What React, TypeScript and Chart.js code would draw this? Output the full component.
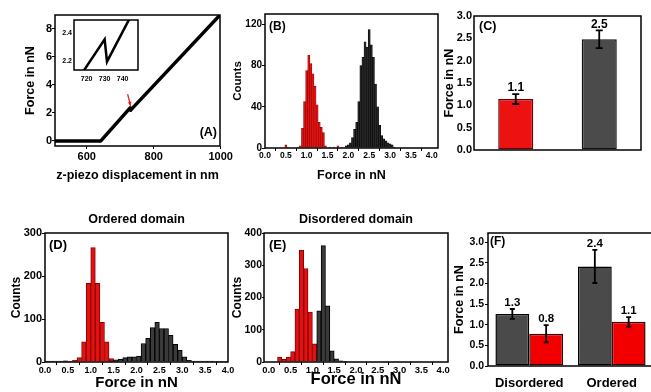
import React, { useEffect, useRef } from 'react';
import { Chart, registerables } from 'chart.js';

Chart.register(...registerables);

const FONT = "'Liberation Sans', Arial, Helvetica, sans-serif";

// ---------- (A) force curve ----------
const A_DISP = [505, 642, 729.5, 731, 998];
const A_FORCE = [0, 0, 2.36, 2.2, 9];
const A_X_TICKS = [600, 800, 1000];
const A_Y_TICKS = [0, 2, 4, 6, 8];
const A_ARROW_DISP = [722, 731];
const A_ARROW_FORCE = [3.35, 2.5];
// inset of (A)
const INSET_DISP = [713, 730, 731.3, 748.5];
const INSET_FORCE = [2.02, 2.356, 2.193, 2.625];
const INSET_X_TICKS = [720, 730, 740];
const INSET_Y_TICKS = [2.2, 2.4];

// ---------- (B) histogram ----------
const B_RED_BINS = [0.5, 0.55, 0.8, 0.85, 0.9, 0.95, 1.0, 1.05, 1.1, 1.15, 1.2, 1.25, 1.3, 1.35, 1.4, 1.45, 1.55, 1.65, 1.75, 1.85];
const B_RED_COUNTS = [3, 1, 1, 2, 19, 45, 75, 90, 82, 72, 60, 42, 25, 20, 15, 2, 1, 1, 2, 1];
const B_DARK_BINS = [1.95, 2.0, 2.05, 2.1, 2.15, 2.2, 2.25, 2.3, 2.35, 2.4, 2.45, 2.5, 2.55, 2.6, 2.65, 2.7, 2.75, 2.8, 2.85, 2.9, 2.95, 3.0, 3.05, 3.1];
const B_DARK_COUNTS = [2, 3, 5, 10, 18, 25, 45, 80, 88, 103, 98, 115, 100, 88, 62, 40, 22, 12, 9, 7, 5, 4, 3, 1];
const B_Y_TICKS = [0, 40, 80, 120];

// ---------- (D) Ordered domain ----------
const D_RED_BINS = [0.45, 0.55, 0.65, 0.75, 0.85, 0.95, 1.05, 1.15, 1.25, 1.35, 1.45, 1.55];
const D_RED_COUNTS = [1, 2, 4, 10, 47, 183, 266, 183, 92, 47, 8, 3];
const D_DARK_BINS = [0.05, 0.15, 0.25, 0.35, 0.45, 1.45, 1.55, 1.65, 1.75, 1.85, 1.95, 2.05, 2.15, 2.25, 2.35, 2.45, 2.55, 2.65, 2.75, 2.85, 2.95, 3.05, 3.15, 3.25, 3.35, 3.45, 3.55, 3.65, 3.75, 3.85, 3.95];
const D_DARK_COUNTS = [2, 2, 2, 2, 3, 3, 5, 7, 10, 12, 12, 14, 43, 55, 80, 92, 78, 78, 62, 41, 27, 12, 4, 2, 2, 2, 2, 2, 1, 1, 1];
const D_Y_TICKS = [0, 100, 200, 300];

// ---------- (E) Disordered domain ----------
const E_RED_BINS = [0.25, 0.35, 0.45, 0.55, 0.65, 0.75, 0.85, 0.95, 1.05];
const E_RED_COUNTS = [15, 8, 15, 32, 164, 347, 290, 155, 56];
const E_DARK_BINS = [1.15, 1.25, 1.35, 1.45, 1.55, 1.65, 1.75];
const E_DARK_COUNTS = [159, 361, 174, 35, 10, 4, 2];
const E_Y_TICKS = [0, 100, 200, 300, 400];

const HIST_X_TICKS = [0, 0.5, 1, 1.5, 2, 2.5, 3, 3.5, 4];
const FORCE_TICKS = [0, 0.5, 1, 1.5, 2, 2.5, 3];

// ---------- (C) mean forces ----------
const C_GROUPS = ['Red population', 'Black population'];
const C_MEAN = [1.14, 2.48];
const C_ERR = [0.11, 0.2];

// ---------- (F) mean forces per domain ----------
const F_GROUPS = ['Disordered', 'Ordered'];
const F_DARK_MEAN = [1.26, 2.41];
const F_DARK_ERR = [0.12, 0.4];
const F_RED_MEAN = [0.78, 1.07];
const F_RED_ERR = [0.21, 0.115];

// ---------- helpers ----------
type Geo = { L: number; T: number; R: number; B: number; yW: number; xH: number; padT: number; padR: number; padB: number };

const rectOf = (g: Geo) => {
  const x = g.L - g.yW;
  const y = g.T - g.padT;
  return { x, y, w: g.R + g.padR - x, h: g.B + g.xH + g.padB - y };
};

const bold = (size: number) => ({ family: FONT, size, weight: 'bold' as const, lineHeight: 1.2 });

function linearAxis(o: {
  axis: 'x' | 'y'; min: number; max: number; ticks: number[]; dec: number; size: number;
  tickLen: number; pad: number; fixed: number; title?: string; titleSize?: number;
}) {
  return {
    type: 'linear',
    min: o.min,
    max: o.max,
    offset: false,
    afterBuildTicks: (s: any) => { s.ticks = o.ticks.map((v) => ({ value: v })); },
    afterFit: (s: any) => { if (o.axis === 'y') s.width = o.fixed; else s.height = o.fixed; },
    ticks: {
      font: bold(o.size), color: '#000', padding: o.pad, autoSkip: false, maxRotation: 0, minRotation: 0,
      callback: (v: any) => Number(v).toFixed(o.dec),
    },
    grid: { display: true, drawOnChartArea: false, drawTicks: o.tickLen > 0, tickLength: o.tickLen, color: '#000', lineWidth: 1 },
    border: { display: false },
    title: o.title
      ? { display: true, text: o.title, font: bold(o.titleSize || 12), color: '#000', padding: 0 }
      : { display: false },
  };
}

function baseOptions(g: Geo, scales: any) {
  return {
    responsive: false,
    animation: false,
    events: [],
    layout: { padding: { left: 0, top: g.padT, right: g.padR, bottom: g.padB } },
    plugins: { legend: { display: false }, tooltip: { enabled: false }, title: { display: false } },
    scales,
  };
}

type Decor = {
  fill?: string;
  frameWidth?: number;
  label?: { text: string; side: 'left' | 'right'; dx: number; dy: number; size: number; fromBottom?: boolean };
  title?: { text: string; dy: number; size: number };
  errors?: { dataset: number; err: number[]; cap: number; size: number }[];
  arrow?: { xs: number[]; ys: number[]; color: string };
};

function decor(d: Decor) {
  return {
    id: 'decor',
    beforeDraw(chart: any) {
      if (!d.fill) return;
      const { left, top, width, height } = chart.chartArea;
      const ctx = chart.ctx;
      ctx.save();
      ctx.fillStyle = d.fill;
      ctx.fillRect(left, top, width, height);
      ctx.restore();
    },
    afterDatasetsDraw(chart: any) {
      const ctx = chart.ctx;
      ctx.save();
      for (const e of d.errors || []) {
        const meta = chart.getDatasetMeta(e.dataset);
        const values = chart.data.datasets[e.dataset].data as number[];
        const ys = chart.scales.y;
        meta.data.forEach((bar: any, j: number) => {
          const v = values[j];
          const er = e.err[j];
          const yTop = ys.getPixelForValue(v + er);
          const yBot = ys.getPixelForValue(v - er);
          ctx.strokeStyle = '#000';
          ctx.lineWidth = 1.8;
          ctx.beginPath();
          ctx.moveTo(bar.x, yTop); ctx.lineTo(bar.x, yBot);
          ctx.moveTo(bar.x - e.cap, yTop); ctx.lineTo(bar.x + e.cap, yTop);
          ctx.moveTo(bar.x - e.cap, yBot); ctx.lineTo(bar.x + e.cap, yBot);
          ctx.stroke();
          ctx.font = `bold ${e.size}px ${FONT}`;
          ctx.textAlign = 'center';
          ctx.textBaseline = 'middle';
          ctx.fillStyle = '#000';
          ctx.fillText(v.toFixed(1), bar.x, yTop - 6);
        });
      }
      if (d.arrow) {
        const xs = chart.scales.x;
        const ys = chart.scales.y;
        const x1 = xs.getPixelForValue(d.arrow.xs[0]);
        const y1 = ys.getPixelForValue(d.arrow.ys[0]);
        const x2 = xs.getPixelForValue(d.arrow.xs[1]);
        const y2 = ys.getPixelForValue(d.arrow.ys[1]);
        const ang = Math.atan2(y2 - y1, x2 - x1);
        ctx.strokeStyle = d.arrow.color;
        ctx.fillStyle = d.arrow.color;
        ctx.lineWidth = 1.3;
        ctx.beginPath();
        ctx.moveTo(x1, y1);
        ctx.lineTo(x2, y2);
        ctx.stroke();
        ctx.beginPath();
        ctx.moveTo(x2, y2);
        ctx.lineTo(x2 - 4.5 * Math.cos(ang - 0.45), y2 - 4.5 * Math.sin(ang - 0.45));
        ctx.lineTo(x2 - 4.5 * Math.cos(ang + 0.45), y2 - 4.5 * Math.sin(ang + 0.45));
        ctx.closePath();
        ctx.fill();
      }
      ctx.restore();
    },
    afterDraw(chart: any) {
      const ctx = chart.ctx;
      const { left, top, right, bottom } = chart.chartArea;
      ctx.save();
      ctx.strokeStyle = '#000';
      ctx.lineWidth = d.frameWidth || 1.5;
      ctx.strokeRect(left, top, right - left, bottom - top);
      ctx.fillStyle = '#000';
      if (d.label) {
        const l = d.label;
        ctx.font = `bold ${l.size}px ${FONT}`;
        ctx.textBaseline = 'middle';
        ctx.textAlign = l.side === 'left' ? 'left' : 'right';
        const x = l.side === 'left' ? left + l.dx : right - l.dx;
        const y = l.fromBottom ? bottom - l.dy : top + l.dy;
        ctx.fillText(l.text, x, y);
      }
      if (d.title) {
        ctx.font = `bold ${d.title.size}px ${FONT}`;
        ctx.textBaseline = 'middle';
        ctx.textAlign = 'center';
        ctx.fillText(d.title.text, (left + right) / 2, top - d.title.dy);
      }
      ctx.restore();
    },
  };
}

const pts = (xs: number[], ys: number[]) => xs.map((x, i) => ({ x, y: ys[i] }));

// ---------- geometries ----------
const GEO_A: Geo = { L: 55, T: 15, R: 220, B: 146, yW: 32, xH: 37, padT: 12, padR: 18, padB: 0 };
const GEO_IN: Geo = { L: 74, T: 20, R: 138, B: 70, yW: 14, xH: 14, padT: 7, padR: 4, padB: 0 };
const GEO_B: Geo = { L: 265, T: 14, R: 438, B: 148, yW: 34, xH: 35, padT: 12, padR: 8, padB: 0 };
const GEO_C: Geo = { L: 474, T: 16, R: 641, B: 150, yW: 32, xH: 0, padT: 12, padR: 8, padB: 12 };
const GEO_D: Geo = { L: 45, T: 233, R: 228, B: 362, yW: 36, xH: 30, padT: 23, padR: 12, padB: 0 };
const GEO_E: Geo = { L: 264, T: 233, R: 448, B: 362, yW: 34, xH: 27, padT: 23, padR: 12, padB: 0 };
const GEO_F: Geo = { L: 488, T: 233, R: 653, B: 366, yW: 36, xH: 26, padT: 12, padR: 0, padB: 0 };

// ---------- builders ----------
function buildA() {
  return {
    type: 'line',
    data: {
      datasets: [{
        data: pts(A_DISP, A_FORCE), borderColor: '#000', borderWidth: 3.5, pointRadius: 0,
        tension: 0, fill: false, borderJoinStyle: 'round', borderCapStyle: 'round',
      }],
    },
    options: baseOptions(GEO_A, {
      x: linearAxis({ axis: 'x', min: 505, max: 998, ticks: A_X_TICKS, dec: 0, size: 11, tickLen: 3, pad: 1, fixed: GEO_A.xH, title: 'z-piezo displacement in nm', titleSize: 12.5 }),
      y: linearAxis({ axis: 'y', min: -0.36, max: 9, ticks: A_Y_TICKS, dec: 0, size: 11, tickLen: 3, pad: 0, fixed: GEO_A.yW, title: 'Force in nN', titleSize: 12.5 }),
    }),
    plugins: [decor({
      label: { text: '(A)', side: 'right', dx: 3, dy: 13, size: 12.5, fromBottom: true },
      arrow: { xs: A_ARROW_DISP, ys: A_ARROW_FORCE, color: '#e2231a' },
    })],
  };
}

function buildInset() {
  return {
    type: 'line',
    data: {
      datasets: [{
        data: pts(INSET_DISP, INSET_FORCE), borderColor: '#000', borderWidth: 2.5, pointRadius: 0, tension: 0, fill: false,
      }],
    },
    options: baseOptions(GEO_IN, {
      x: { ...linearAxis({ axis: 'x', min: 713, max: 748.5, ticks: INSET_X_TICKS, dec: 0, size: 7, tickLen: 0, pad: 5, fixed: GEO_IN.xH }), grid: { display: false, drawTicks: false } },
      y: { ...linearAxis({ axis: 'y', min: 2.132, max: 2.497, ticks: INSET_Y_TICKS, dec: 1, size: 7, tickLen: 0, pad: 2, fixed: GEO_IN.yW }), grid: { display: false, drawTicks: false } },
    }),
    plugins: [decor({ fill: '#ffffff', frameWidth: 1.5 })],
  };
}

function histConfig(g: Geo, o: {
  red: number[]; redCounts: number[]; dark: number[]; darkCounts: number[];
  xMin: number; xMax: number; yMax: number; yTicks: number[];
  xSize: number; ySize: number; xTitleSize: number; yTitleSize: number; yTickLen: number;
  darkFill: string; edge: number; label: Decor['label']; title?: Decor['title'];
}) {
  const common = { grouped: false, barPercentage: 1, categoryPercentage: 1, borderWidth: o.edge };
  return {
    type: 'bar',
    data: {
      datasets: [
        { ...common, data: pts(o.red, o.redCounts), backgroundColor: '#e21212', borderColor: '#8e0000', order: 2 },
        { ...common, data: pts(o.dark, o.darkCounts), backgroundColor: o.darkFill, borderColor: '#000', order: 1 },
      ],
    },
    options: baseOptions(g, {
      x: linearAxis({ axis: 'x', min: o.xMin, max: o.xMax, ticks: HIST_X_TICKS, dec: 1, size: o.xSize, tickLen: 3, pad: 0, fixed: g.xH, title: 'Force in nN', titleSize: o.xTitleSize }),
      y: linearAxis({ axis: 'y', min: 0, max: o.yMax, ticks: o.yTicks, dec: 0, size: o.ySize, tickLen: o.yTickLen, pad: 0, fixed: g.yW, title: 'Counts', titleSize: o.yTitleSize }),
    }),
    plugins: [decor({ label: o.label, title: o.title })],
  };
}

const buildB = () => histConfig(GEO_B, {
  red: B_RED_BINS, redCounts: B_RED_COUNTS, dark: B_DARK_BINS, darkCounts: B_DARK_COUNTS,
  xMin: 0, xMax: 4.15, yMax: 130, yTicks: B_Y_TICKS, xSize: 8.5, ySize: 10, xTitleSize: 12.5, yTitleSize: 11.5, yTickLen: 3,
  darkFill: '#262626', edge: 0.6, label: { text: '(B)', side: 'left', dx: 4, dy: 13, size: 12 },
});

const buildD = () => histConfig(GEO_D, {
  red: D_RED_BINS, redCounts: D_RED_COUNTS, dark: D_DARK_BINS, darkCounts: D_DARK_COUNTS,
  xMin: 0, xMax: 4, yMax: 300, yTicks: D_Y_TICKS, xSize: 9, ySize: 11, xTitleSize: 15, yTitleSize: 12, yTickLen: 3,
  darkFill: '#3a3a3a', edge: 1, label: { text: '(D)', side: 'left', dx: 4, dy: 12, size: 13 },
  title: { text: 'Ordered domain', dy: 13, size: 12.5 },
});

const buildE = () => histConfig(GEO_E, {
  red: E_RED_BINS, redCounts: E_RED_COUNTS, dark: E_DARK_BINS, darkCounts: E_DARK_COUNTS,
  xMin: -0.11, xMax: 4.11, yMax: 400, yTicks: E_Y_TICKS, xSize: 9.5, ySize: 10.5, xTitleSize: 16.5, yTitleSize: 12, yTickLen: 2,
  darkFill: '#3a3a3a', edge: 1, label: { text: '(E)', side: 'left', dx: 5, dy: 12, size: 13 },
  title: { text: 'Disordered domain', dy: 13, size: 12.5 },
});

function buildC() {
  return {
    type: 'bar',
    data: {
      labels: C_GROUPS,
      datasets: [{
        data: C_MEAN, backgroundColor: ['#ee1111', '#4b4b4b'], borderColor: ['#6e0000', '#111111'],
        borderWidth: 1.5, borderSkipped: false, barPercentage: 0.42, categoryPercentage: 1,
      }],
    },
    options: baseOptions(GEO_C, {
      x: { type: 'category', display: false, offset: true },
      y: linearAxis({ axis: 'y', min: 0, max: 3, ticks: FORCE_TICKS, dec: 1, size: 11, tickLen: 0, pad: 2, fixed: GEO_C.yW, title: 'Force in nN', titleSize: 12.5 }),
    }),
    plugins: [decor({
      label: { text: '(C)', side: 'left', dx: 5, dy: 11, size: 12.5 },
      errors: [{ dataset: 0, err: C_ERR, cap: 3.5, size: 12 }],
    })],
  };
}

function buildF() {
  const common = { borderWidth: 1.5, borderSkipped: false, barPercentage: 1, categoryPercentage: 0.82 };
  return {
    type: 'bar',
    data: {
      labels: F_GROUPS,
      datasets: [
        { ...common, data: F_DARK_MEAN, backgroundColor: '#4a4a4a', borderColor: '#000' },
        { ...common, data: F_RED_MEAN, backgroundColor: '#f20000', borderColor: '#3a0000' },
      ],
    },
    options: baseOptions(GEO_F, {
      x: {
        type: 'category', offset: true,
        afterFit: (s: any) => { s.height = GEO_F.xH; },
        ticks: { font: bold(13), color: '#000', padding: 10, maxRotation: 0, autoSkip: false },
        grid: { display: false, drawTicks: false },
        border: { display: false },
      },
      y: linearAxis({ axis: 'y', min: 0, max: 3.22, ticks: FORCE_TICKS, dec: 1, size: 10.5, tickLen: 3, pad: 1, fixed: GEO_F.yW, title: 'Force in nN', titleSize: 12.5 }),
    }),
    plugins: [decor({
      label: { text: '(F)', side: 'left', dx: 2, dy: 9, size: 12 },
      errors: [
        { dataset: 0, err: F_DARK_ERR, cap: 2.5, size: 11.5 },
        { dataset: 1, err: F_RED_ERR, cap: 2.5, size: 11.5 },
      ],
    })],
  };
}

function ChartBox({ geo, build }: { geo: Geo; build: () => any }) {
  const ref = useRef<HTMLCanvasElement>(null);
  const r = rectOf(geo);
  useEffect(() => {
    const chart = new Chart(ref.current as HTMLCanvasElement, build());
    return () => chart.destroy();
  }, []);
  return (
    <canvas
      ref={ref}
      width={r.w}
      height={r.h}
      style={{ position: 'absolute', left: r.x, top: r.y, width: r.w, height: r.h, display: 'block' }}
    />
  );
}

export default function App() {
  return (
    <div style={{ position: 'absolute', left: 0, top: 0, width: 651, height: 392, overflow: 'hidden', background: '#ffffff' }}>
      <ChartBox geo={GEO_A} build={buildA} />
      <ChartBox geo={GEO_IN} build={buildInset} />
      <ChartBox geo={GEO_B} build={buildB} />
      <ChartBox geo={GEO_C} build={buildC} />
      <ChartBox geo={GEO_D} build={buildD} />
      <ChartBox geo={GEO_E} build={buildE} />
      <ChartBox geo={GEO_F} build={buildF} />
    </div>
  );
}
